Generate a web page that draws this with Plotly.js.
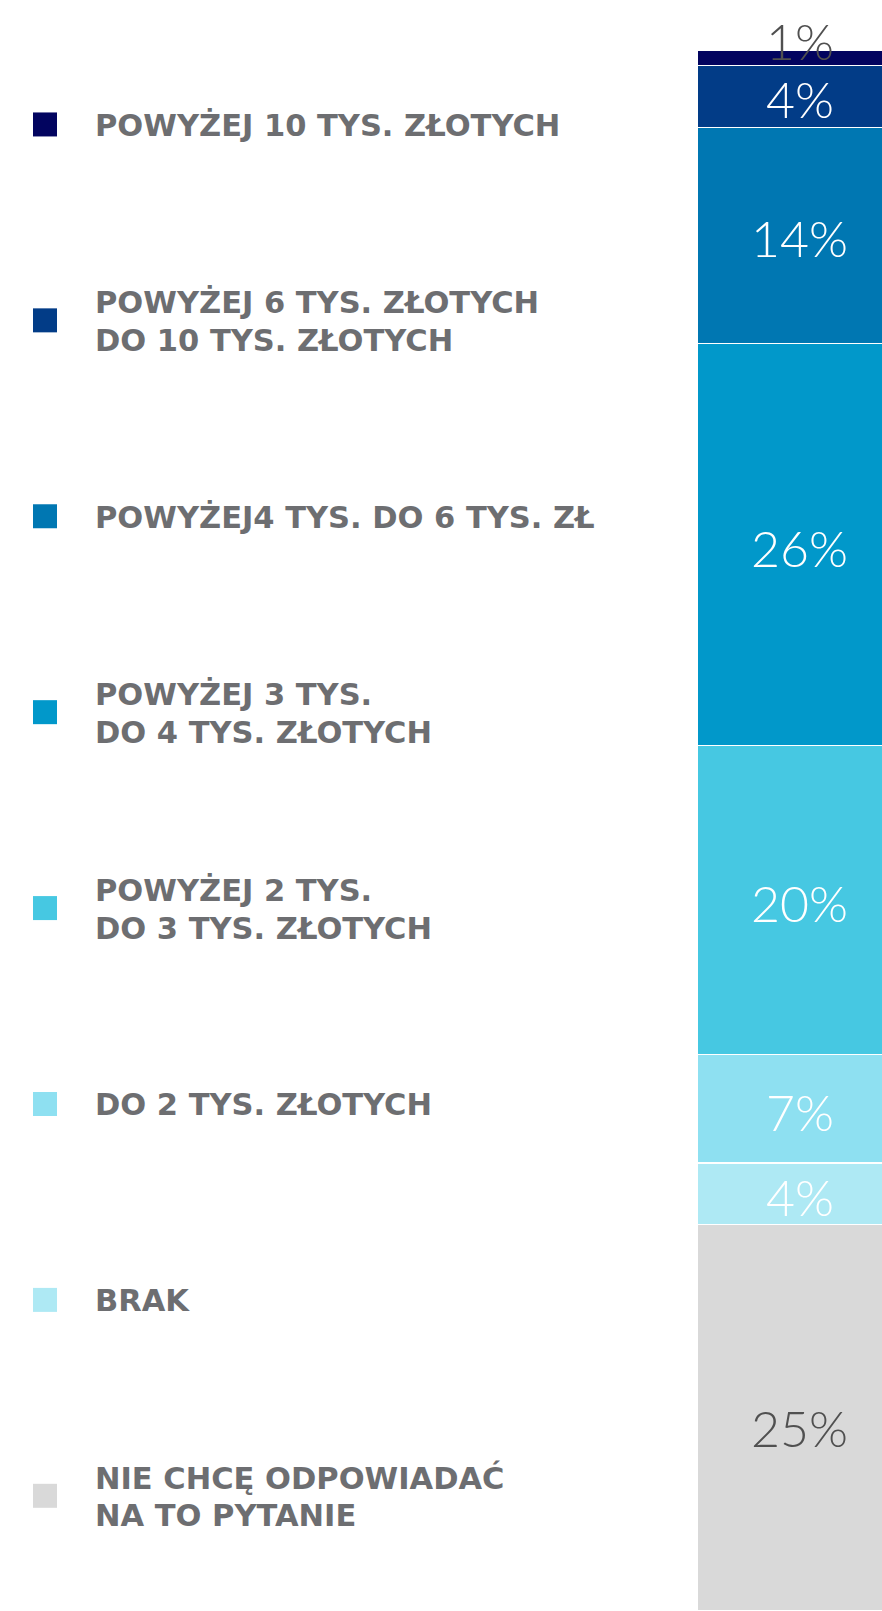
<!DOCTYPE html>
<html>
<head>
<meta charset="utf-8">
<script src="https://cdn.plot.ly/plotly-3.0.1.min.js"></script>
<style>
html,body{margin:0;padding:0;background:#ffffff;}
#chart{width:882px;height:1611px;}
</style>
</head>
<body>
<div id="chart"></div>
<script>
// Categories, top to bottom (same order as stacked bar, top to bottom)
const categories = [
  "POWYŻEJ 10 TYS. ZŁOTYCH",
  "POWYŻEJ 6 TYS. ZŁOTYCH<br>DO 10 TYS. ZŁOTYCH",
  "POWYŻEJ4 TYS. DO 6 TYS. ZŁ",
  "POWYŻEJ 3 TYS.<br>DO 4 TYS. ZŁOTYCH",
  "POWYŻEJ 2 TYS.<br>DO 3 TYS. ZŁOTYCH",
  "DO 2 TYS. ZŁOTYCH",
  "BRAK",
  "NIE CHCĘ ODPOWIADAĆ<br>NA TO PYTANIE"
];
const values = [1, 4, 14, 26, 20, 7, 4, 25];
const colors = ["#02045f", "#023c87", "#0077b2", "#0198ca", "#46c8e2", "#8ee0f1", "#aee9f4", "#d9d9d9"];

const W = 882, H = 1611;
const total = values.reduce((a, b) => a + b, 0);

const traces = [];
// Stacked bar: build bottom to top
for (let i = values.length - 1; i >= 0; i--) {
  traces.push({
    type: 'bar',
    x: [0],
    y: [values[i]],
    width: 1,
    marker: {color: colors[i], line: {color: '#ffffff', width: 1.5}},
    hoverinfo: 'skip',
    showlegend: false,
    xaxis: 'x', yaxis: 'y'
  });
}

// Legend squares on a second axis pair
traces.push({
  type: 'scatter',
  mode: 'markers',
  x: categories.map(() => 45),
  y: categories.map((c, i) => i),
  marker: {symbol: 'square', size: 24, color: colors, line: {width: 0}},
  hoverinfo: 'skip',
  showlegend: false,
  xaxis: 'x2', yaxis: 'y2'
});

const annotations = [];
// Percentage labels
let cum = 0;
const tops = [];
for (let i = values.length - 1; i >= 0; i--) {
  const bottom = cum;
  cum += values[i];
  tops[i] = [bottom, cum];
}
values.forEach((v, i) => {
  const [b, t] = tops[i];
  const small = v < 2;
  const grey = colors[i] === "#d9d9d9";
  annotations.push({
    xref: 'x', yref: 'y',
    x: 0, y: small ? t : (b + t) / 2,
    yshift: small ? 9 : (grey ? -10 : -3),
    text: v + '%',
    showarrow: false,
    xanchor: 'center', yanchor: 'middle',
    font: {family: 'Lato, "Open Sans", sans-serif', weight: 300, size: 50, color: (small || grey) ? '#505050' : '#ffffff'}
  });
});

// Legend texts (each line separately to control line spacing)
const lineGap = 38;
categories.forEach((c, i) => {
  const lines = c.split('<br>');
  const n = lines.length;
  lines.forEach((ln, j) => {
    annotations.push({
      xref: 'x2', yref: 'y2',
      x: 93, y: i,
      yshift: ((n - 1) / 2 - j) * lineGap - 1,
      text: ln,
      showarrow: false,
      xanchor: 'left', yanchor: 'middle',
      font: {family: '"DejaVu Sans", sans-serif', weight: 700, size: 30.5, color: '#6d6e71'}
    });
  });
});

const layout = {
  width: W, height: H,
  margin: {l: 0, r: 0, t: 50, b: 0, pad: 0},
  paper_bgcolor: '#ffffff',
  plot_bgcolor: 'rgba(0,0,0,0)',
  barmode: 'stack',
  bargap: 0,
  showlegend: false,
  xaxis: {domain: [697 / W, 1], range: [-0.5, 0.4], visible: false, fixedrange: true},
  yaxis: {domain: [0, 1], range: [0, total], visible: false, fixedrange: true},
  xaxis2: {domain: [0, 680 / W], range: [0, 680], visible: false, fixedrange: true, anchor: 'y2'},
  yaxis2: {domain: [0, 1], range: [7.588, -0.38], visible: false, fixedrange: true, anchor: 'x2'},
  annotations: annotations
};

Plotly.newPlot('chart', traces, layout, {displayModeBar: false, staticPlot: true});
</script>
</body>
</html>
